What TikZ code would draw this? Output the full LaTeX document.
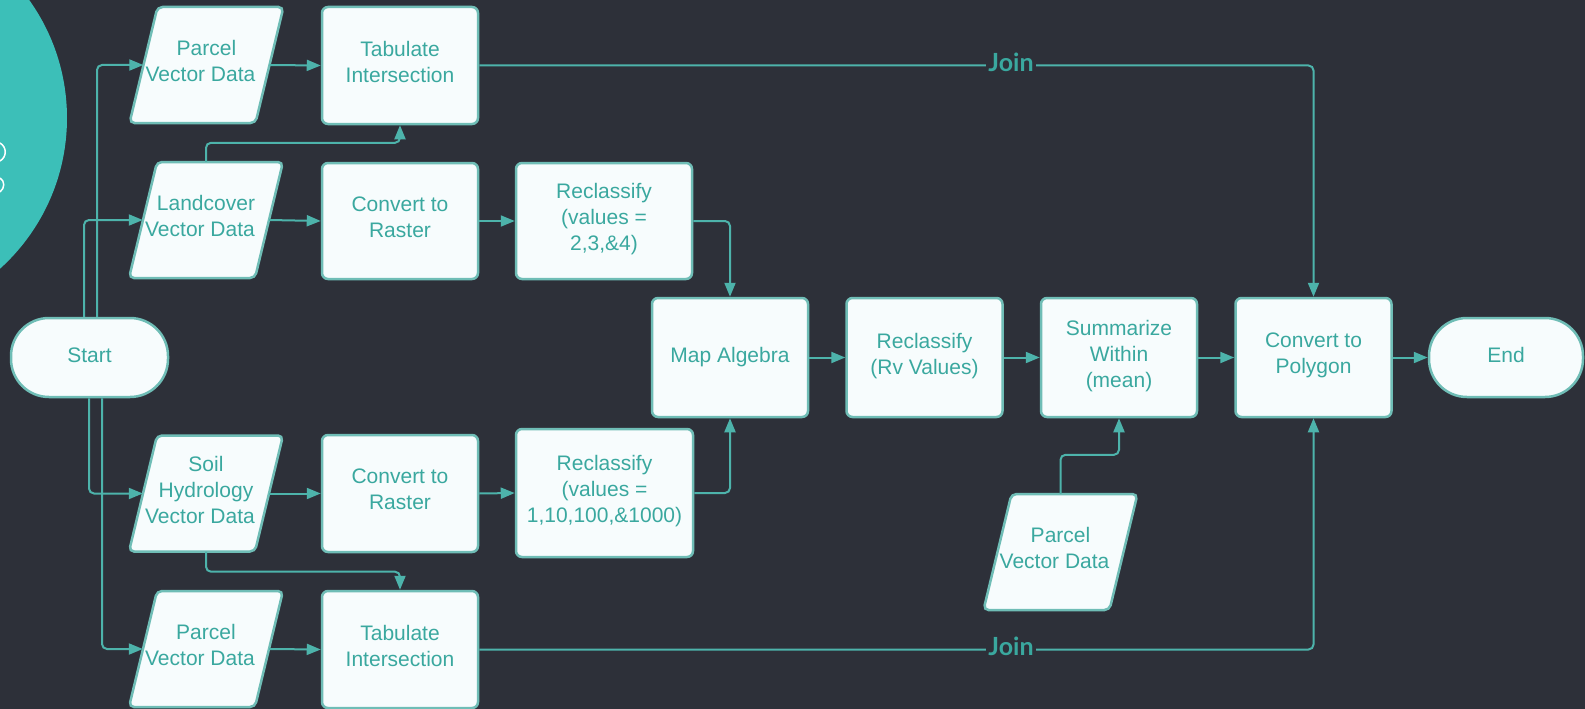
\documentclass[tikz,border=0pt]{standalone}
\usepackage{fontspec}
\setmainfont{Liberation Sans}
\newfontfamily\joinfamily{Lato}
\usetikzlibrary{arrows.meta,calc}
\definecolor{bgcol}{HTML}{2D3039}
\definecolor{circcol}{HTML}{3CBFB8}
\definecolor{fillcol}{HTML}{F7FCFD}
\definecolor{bordercol}{HTML}{6FBDB6}
\definecolor{textcol}{HTML}{3AA89F}
\definecolor{linecol}{HTML}{4DB3AB}
\newcommand\parashape[1]{\draw[pshape] ([shift={(-49,-58)}]#1) -- ([shift={(77,-58)}]#1) -- ([shift={(49,58)}]#1) -- ([shift={(-77,58)}]#1) -- cycle;}
\newcommand\vd{Vector Data\kern12pt}
\begin{document}
\begin{tikzpicture}[x=1pt,y=-1pt,
  txt/.style={text=textcol, font=\fontsize{21}{26}\selectfont, align=center, inner sep=0pt, execute at begin node=\strut, execute at end node=\strut},
  box/.style={txt, draw=bordercol, line width=2.5pt, fill=fillcol, rounded corners=6pt, minimum width=156pt, minimum height=117pt},
  pill/.style={txt, draw=bordercol, line width=2.5pt, fill=fillcol, rounded corners=38pt, minimum width=156pt, minimum height=79pt},
  ptxt/.style={txt, minimum width=126pt, minimum height=116pt},
  pshape/.style={draw=bordercol, line width=2.5pt, fill=fillcol, rounded corners=5pt},
  conn/.style={draw=linecol, line width=2pt, rounded corners=5pt, -{Triangle[length=14pt,width=11pt]}},
  joinlbl/.style={fill=bgcol, text=textcol, font=\joinfamily\bfseries\fontsize{25}{28}\selectfont, inner sep=2pt}
]
\useasboundingbox (0,0) rectangle (1585,709);
\clip (0,0) rectangle (1585,709);
\fill[bgcol] (0,0) rectangle (1585,709);
\fill[circcol] (-136,118) circle (203pt);
\draw[white, line width=1.5pt] (0,143) .. controls (7,147) and (7,157) .. (0,161);
\draw[white, line width=1.5pt] (0,178) .. controls (5,181) and (5,188) .. (0,192);

% parallelograms
\coordinate (p1c) at (206.5,65);
\coordinate (landc) at (206,220);
\coordinate (soilc) at (206,493.5);
\coordinate (p2c) at (206,649);
\coordinate (p3c) at (1060.5,552);
\parashape{p1c}
\parashape{landc}
\parashape{soilc}
\parashape{p2c}
\parashape{p3c}
\node[ptxt] (p1) at (p1c) {Parcel\\\vd};
\node[ptxt] (land) at (landc) {Landcover\\\vd};
\node[ptxt] (soil) at (soilc) {Soil\\Hydrology\\\vd};
\node[ptxt] (p2) at (p2c) {Parcel\\\vd};
\node[ptxt] (p3) at (p3c) {Parcel\\\vd};

% boxes
\node[box] (tab1) at (400,65.5) {Tabulate\\Intersection};
\node[box, minimum height=116pt] (conv1) at (400,221) {Convert to\\Raster};
\node[box, minimum width=176pt, minimum height=116pt] (rec1) at (604,221) {Reclassify\\(values =\\2,3,\&4)};
\node[box] (conv2) at (400,493.5) {Convert to\\Raster};
\node[box, minimum width=177pt, minimum height=128pt] (rec2) at (604.5,493) {Reclassify\\(values =\\1,10,100,\&1000)};
\node[box] (tab2) at (400,649.5) {Tabulate\\Intersection};
\node[box, minimum height=119pt] (map) at (730,357.5) {Map Algebra};
\node[box, minimum height=119pt] (rv) at (924.5,357.5) {Reclassify\\(Rv Values)};
\node[box, minimum height=119pt] (summ) at (1119,357.5) {Summarize\\Within\\(mean)};
\node[box, minimum height=119pt] (poly) at (1313.5,357.5) {Convert to\\Polygon};
\node[pill, minimum width=157pt] (start) at (89.5,357.5) {Start};
\node[pill, minimum width=154pt] (end) at (1506,357.5) {End};

% connectors from start
\draw[conn] ([xshift=-5.5pt]start.north) |- (land.west);
\draw[conn] ([xshift=7.5pt]start.north) |- (p1.west);
\draw[conn] ([xshift=-0.5pt]start.south) |- (soil.west);
\draw[conn] ([xshift=12.5pt]start.south) |- (p2.west);

% horizontal flows
\draw[conn] (p1.east) -- (tab1.west);
\draw[conn] (land.east) -- (conv1.west);
\draw[conn] (conv1.east) -- (rec1.west);
\draw[conn] (soil.east) -- (conv2.west);
\draw[conn] (conv2.east) -- (rec2.west);
\draw[conn] (p2.east) -- (tab2.west);
\draw[conn] (map.east) -- (rv.west);
\draw[conn] (rv.east) -- (summ.west);
\draw[conn] (summ.east) -- (poly.west);
\draw[conn] (poly.east) -- (end.west);

% bent connectors
\draw[conn] (land.north) -- ++(0,-19) -| (tab1.south);
\draw[conn] (soil.south) -- ++(0,20) -| (tab2.north);
\draw[conn] (rec1.east) -| (map.north);
\draw[conn] (rec2.east) -| (map.south);
\draw[conn] (p3.north) -- ++(0,-39) -| (summ.south);
\draw[conn] (tab1.east) -| (poly.north);
\draw[conn] (tab2.east) -| (poly.south);
\node[joinlbl] (join1) at (1011,62) {Join};
\node[joinlbl] (join2) at (1011,646) {Join};
\end{tikzpicture}
\end{document}
